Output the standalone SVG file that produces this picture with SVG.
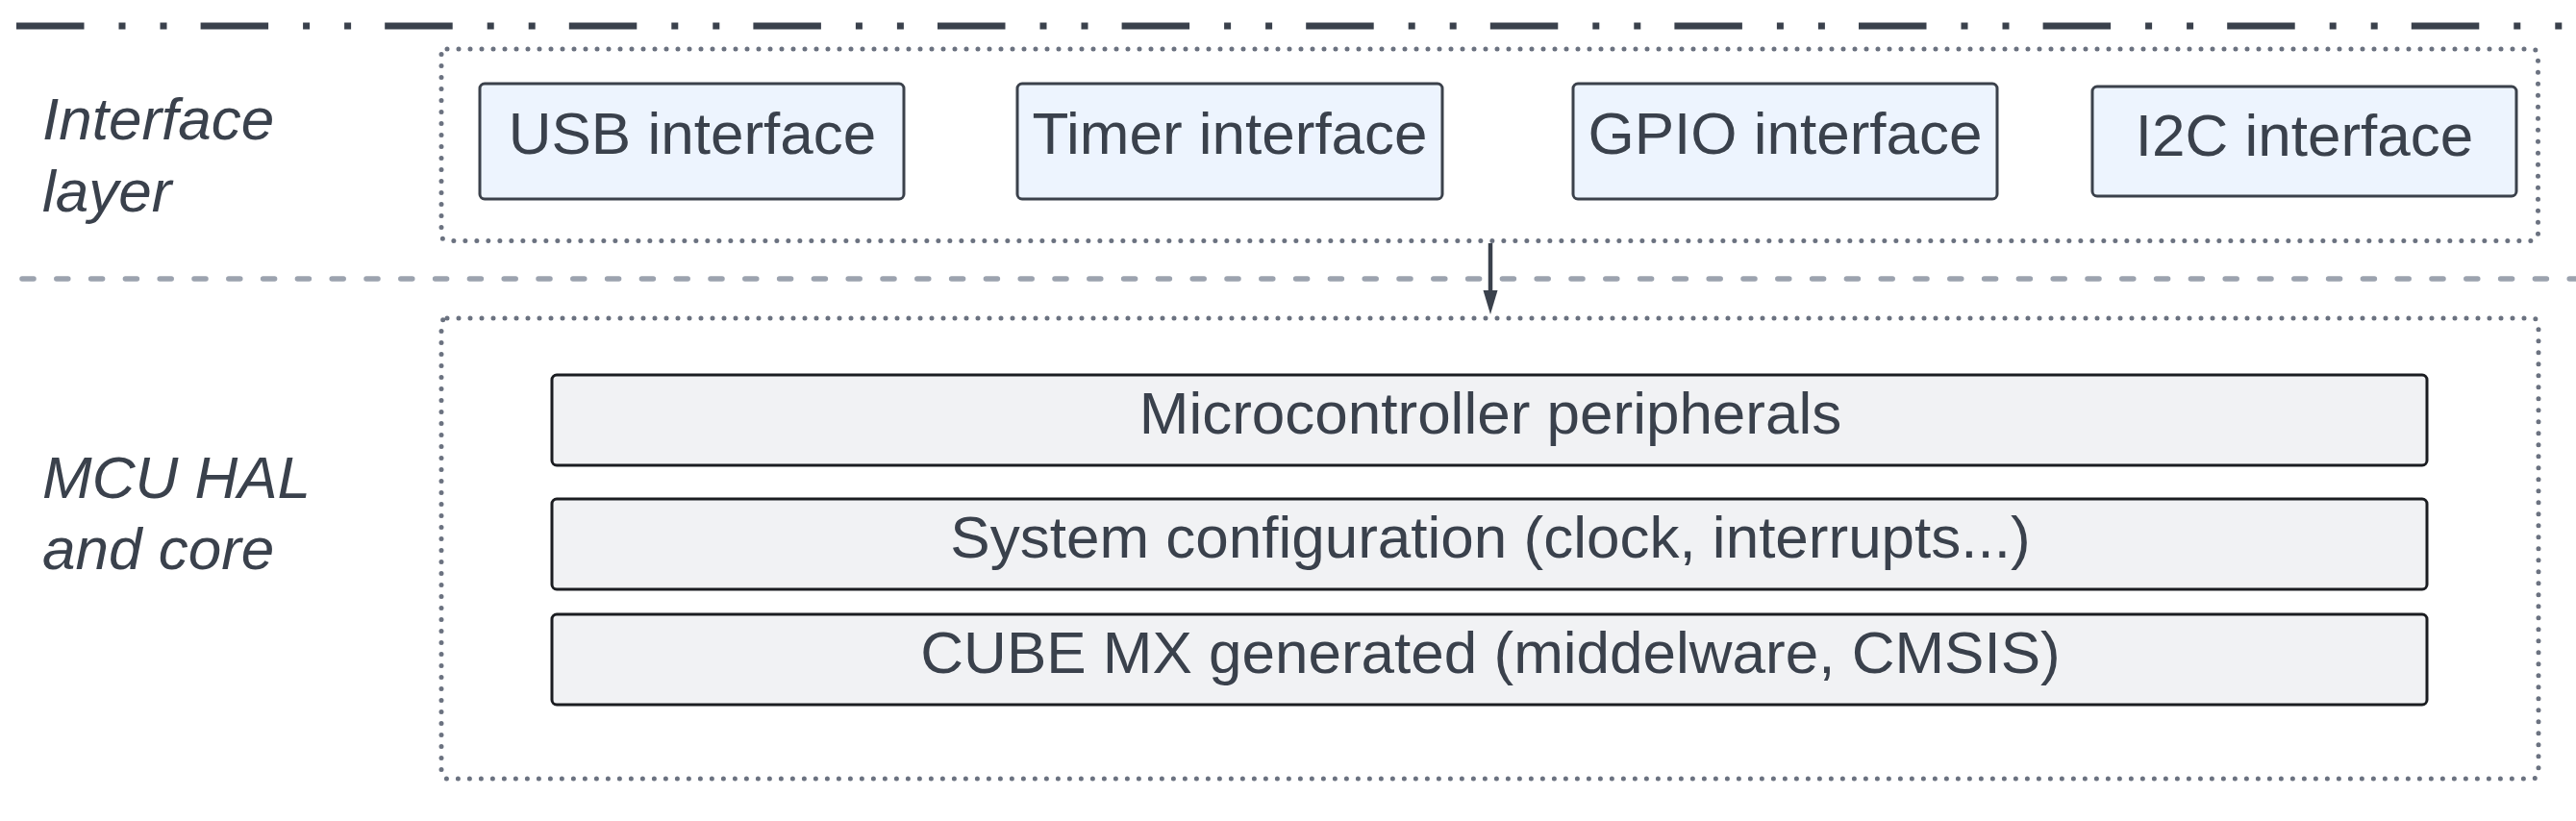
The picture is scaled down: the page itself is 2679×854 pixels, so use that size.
<svg xmlns="http://www.w3.org/2000/svg" width="2679" height="854" viewBox="0 0 2679 854">
<style>
.lbl{font-family:"Liberation Sans",Arial,sans-serif;font-size:62px;fill:#3a414c}
.side{font-style:italic;text-anchor:start}
.ctr{text-anchor:middle}
.ibox{fill:#edf4fe;stroke:#3b414b;stroke-width:3}
.cbox{fill:#f1f2f4;stroke:#1b1d21;stroke-width:3}
.cont{fill:none;stroke:#6b7280;stroke-width:5;stroke-dasharray:0 12;stroke-linecap:round}
</style>
<defs>
<marker id="ah" markerUnits="userSpaceOnUse" markerWidth="26" markerHeight="16" refX="0" refY="8" orient="auto" viewBox="0 0 26 16">
<path d="M0 0.5 L25 8 L0 15.5 Z" fill="#3a414c"/>
</marker>
</defs>
<rect width="2679" height="854" fill="#ffffff"/>
<g id="separators">
<line x1="17" y1="27" x2="2679" y2="27" stroke="#3a414c" stroke-width="7" stroke-dasharray="70.5 36 7 36 7 35.1"/>
<line x1="23" y1="290" x2="2679" y2="290" stroke="#9ca3af" stroke-width="5.5" stroke-linecap="round" stroke-dasharray="12 23.8"/>
</g>
<g id="layer-interface">
<rect class="cont" x="459" y="51" width="2180.5" height="199.5" rx="6"/>
<text class="lbl side" x="44" y="145">Interface</text>
<text class="lbl side" x="44" y="220">layer</text>
</g>
<g id="layer-mcu">
<rect class="cont" x="459" y="331" width="2181" height="479" rx="6"/>
<text class="lbl side" x="44" y="518">MCU HAL</text>
<text class="lbl side" x="44" y="592">and core</text>
</g>
<g id="usb">
<rect class="ibox" x="499" y="87" width="441" height="120" rx="5"/>
<text class="lbl ctr" x="720" y="160">USB interface</text>
</g>
<g id="timer">
<rect class="ibox" x="1058" y="87" width="442" height="120" rx="5"/>
<text class="lbl ctr" x="1279" y="160">Timer interface</text>
</g>
<g id="gpio">
<rect class="ibox" x="1636" y="87" width="441" height="120" rx="5"/>
<text class="lbl ctr" x="1856.5" y="160">GPIO interface</text>
</g>
<g id="i2c">
<rect class="ibox" x="2176" y="90" width="441" height="114" rx="5"/>
<text class="lbl ctr" x="2396.5" y="162">I2C interface</text>
</g>
<g id="peripherals">
<rect class="cbox" x="574" y="390" width="1950" height="94" rx="5"/>
<text class="lbl ctr" x="1550" y="451">Microcontroller peripherals</text>
</g>
<g id="sysconfig">
<rect class="cbox" x="574" y="519" width="1950" height="94" rx="5"/>
<text class="lbl ctr" x="1550" y="580">System configuration (clock, interrupts...)</text>
</g>
<g id="cubemx">
<rect class="cbox" x="574" y="639" width="1950" height="94" rx="5"/>
<text class="lbl ctr" x="1550" y="700">CUBE MX generated (middelware, CMSIS)</text>
</g>
<g id="connectors">
<line x1="1550" y1="253" x2="1550" y2="302" stroke="#3a414c" stroke-width="4.5" marker-end="url(#ah)"/>
</g>
</svg>
